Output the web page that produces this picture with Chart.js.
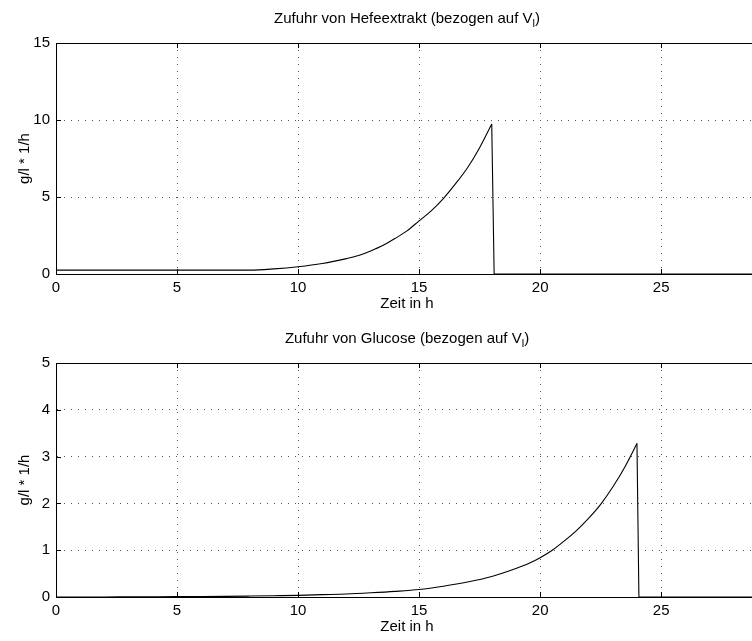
<!DOCTYPE html>
<html>
<head>
<meta charset="utf-8">
<script src="https://cdn.jsdelivr.net/npm/chart.js@4"></script>
<style>
  html, body { margin: 0; padding: 0; background: #fff; overflow: hidden; }
  #wrap { position: relative; width: 752px; height: 641px; overflow: hidden; }
  canvas { position: absolute; left: 0; }
</style>
</head>
<body>
<div id="wrap">
  <canvas id="hefe" width="770" height="330" style="top:0px"></canvas>
  <canvas id="glucose" width="770" height="311" style="top:330px"></canvas>
</div>
<script>
// Hefeextrakt feed (g/l * 1/h)
let hefeZeit = [0, 1, 2, 3, 4, 5, 6, 7, 8, 9, 10, 11, 12, 12.5, 13, 13.5, 14, 14.5, 15, 15.5, 16, 16.5, 17, 17.5, 18]
let hefeWert = [0.25, 0.25, 0.25, 0.25, 0.25, 0.25, 0.25, 0.25, 0.25, 0.33, 0.47, 0.68, 1.0, 1.2, 1.5, 1.85, 2.3, 2.8, 3.45, 4.1, 4.9, 5.85, 6.9, 8.2, 9.74]
let hefeAbZeit = [18, 18.1, 29]
let hefeAbWert = [9.74, 0, 0]

// Glucose feed
let gluZeit = [0, 1, 2, 3, 4, 5, 6, 7, 8, 9, 10, 11, 12, 13, 14, 15, 16, 17, 18, 19, 19.5, 20, 20.5, 21, 21.5, 22, 22.5, 23, 23.5, 24]
let gluWert = [0, 0, 0, 0.003, 0.005, 0.007, 0.01, 0.014, 0.02, 0.027, 0.035, 0.05, 0.065, 0.09, 0.12, 0.16, 0.23, 0.32, 0.44, 0.61, 0.71, 0.84, 1.0, 1.2, 1.42, 1.68, 1.98, 2.35, 2.78, 3.28]
let gluAbZeit = [24, 24.08, 29]
let gluAbWert = [3.28, 0, 0]

let xTicks = [0, 5, 10, 15, 20, 25]
let xMax = 29
let hefeYTicks = [0, 5, 10, 15]
let gluYTicks = [0, 1, 2, 3, 4, 5]

const FONT = '"Liberation Sans", Arial, sans-serif'
const FS = 15
Chart.defaults.font.family = FONT
Chart.defaults.font.size = FS
Chart.defaults.color = '#000'

const AREA_RIGHT = 758

function pts(xs, ys) {
  return xs.map((x, i) => ({x: x, y: ys[i]}))
}

// title with subscript, drawn above the axes
const subTitle = {
  id: 'subTitle',
  afterDraw(chart, args, opts) {
    const ctx = chart.ctx
    const area = chart.chartArea
    ctx.save()
    ctx.fillStyle = '#000'
    ctx.textBaseline = 'alphabetic'
    ctx.font = FS + 'px ' + FONT
    const w1 = ctx.measureText(opts.main).width
    const w3 = ctx.measureText(opts.tail).width
    ctx.font = '11px ' + FONT
    const w2 = ctx.measureText(opts.sub).width
    let x = (area.left + area.right) / 2 - (w1 + w2 + w3) / 2
    const y = area.top - opts.gap
    ctx.font = FS + 'px ' + FONT
    ctx.fillText(opts.main, x, y)
    ctx.font = '11px ' + FONT
    ctx.fillText(opts.sub, x + w1, y + 4)
    ctx.font = FS + 'px ' + FONT
    ctx.fillText(opts.tail, x + w1 + w2, y)
    ctx.restore()
  }
}

// inward tick marks and the top box line, matlab style
const boxTicks = {
  id: 'boxTicks',
  afterDatasetsDraw(chart) {
    const ctx = chart.ctx
    const a = chart.chartArea
    const xs = chart.scales.x, ys = chart.scales.y
    ctx.save()
    ctx.strokeStyle = '#000'
    ctx.lineWidth = 1
    ctx.beginPath()
    ctx.moveTo(a.left, a.top + 0.5)
    ctx.lineTo(a.right, a.top + 0.5)
    xs.ticks.forEach(t => {
      const px = Math.round(xs.getPixelForValue(t.value)) + 0.5
      ctx.moveTo(px, a.bottom)
      ctx.lineTo(px, a.bottom - 5)
      ctx.moveTo(px, a.top)
      ctx.lineTo(px, a.top + 5)
    })
    ys.ticks.forEach(t => {
      const py = Math.round(ys.getPixelForValue(t.value)) + 0.5
      ctx.moveTo(a.left, py)
      ctx.lineTo(a.left + 5, py)
      ctx.moveTo(a.right, py)
      ctx.lineTo(a.right - 5, py)
    })
    ctx.moveTo(a.right - 0.5, a.top)
    ctx.lineTo(a.right - 0.5, a.bottom)
    ctx.stroke()
    ctx.restore()
  }
}

function makeChart(id, title, kurve, abfall, yTicks, padTop, xAxisHeight, xTitlePad) {
  const canvas = document.getElementById(id)
  return new Chart(canvas, {
    type: 'line',
    data: {
      datasets: [
        {
          data: kurve,
          borderColor: '#000',
          borderWidth: 1.1,
          pointRadius: 0,
          cubicInterpolationMode: 'monotone',
          fill: false
        },
        {
          data: abfall,
          borderColor: '#000',
          borderWidth: 1.1,
          pointRadius: 0,
          tension: 0,
          fill: false
        }
      ]
    },
    options: {
      responsive: false,
      animation: false,
      events: [],
      layout: { padding: { top: padTop, right: canvas.width - AREA_RIGHT, left: 0, bottom: 0 } },
      plugins: {
        legend: { display: false },
        tooltip: { enabled: false },
        subTitle: title
      },
      scales: {
        x: {
          type: 'linear',
          min: 0,
          max: xMax,
          afterBuildTicks: s => { s.ticks = xTicks.map(v => ({value: v})) },
          afterFit: s => { s.height = xAxisHeight },
          ticks: {
            padding: 5,
            maxRotation: 0,
            autoSkip: false
          },
          grid: { color: '#555', lineWidth: 1, drawTicks: false },
          border: { color: '#000', width: 1, dash: [1, 6] },
          title: {
            display: true,
            text: 'Zeit in h',
            padding: { top: 0, bottom: xTitlePad }
          }
        },
        y: {
          min: yTicks[0],
          max: yTicks[yTicks.length - 1],
          afterBuildTicks: s => { s.ticks = yTicks.map(v => ({value: v})) },
          afterFit: s => { s.width = 56 },
          ticks: { padding: 6 },
          grid: { color: '#555', lineWidth: 1, drawTicks: false },
          border: { color: '#000', width: 1, dash: [1, 6] },
          title: {
            display: true,
            text: 'g/l * 1/h',
            padding: { top: 16, bottom: 0 }
          }
        }
      }
    },
    plugins: [subTitle, boxTicks]
  })
}

// top: axes 43..274, x title centre about 304
makeChart('hefe',
  { main: 'Zufuhr von Hefeextrakt (bezogen auf V', sub: 'l', tail: ')', gap: 20 },
  pts(hefeZeit, hefeWert), pts(hefeAbZeit, hefeAbWert), hefeYTicks, 43, 56, 17)

// bottom: axes 363..597 in page coords
makeChart('glucose',
  { main: 'Zufuhr von Glucose (bezogen auf V', sub: 'l', tail: ')', gap: 20 },
  pts(gluZeit, gluWert), pts(gluAbZeit, gluAbWert), gluYTicks, 33, 44, 5)
</script>
</body>
</html>
